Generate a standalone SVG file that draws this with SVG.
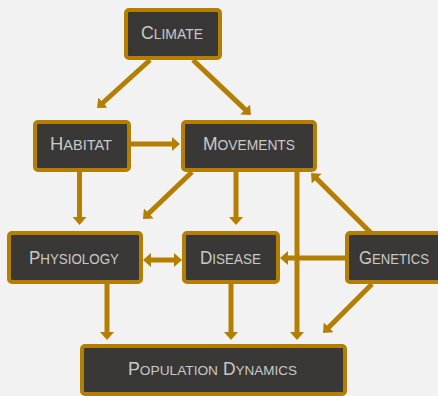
<svg xmlns="http://www.w3.org/2000/svg" width="438" height="396" viewBox="0 0 438 396">
<defs>
<style>
.box{fill:#3a3836;stroke:#b47e00;stroke-width:4}
.lbl{fill:#c9c9c9;font-family:"Liberation Sans","DejaVu Sans",sans-serif;font-size:15px}
.big{font-size:19px}
.pd{font-size:13.5px}
.pd .big{font-size:17.5px}
.con{stroke:#b47e00;stroke-width:5;fill:none}
</style>
<marker id="ah" markerUnits="userSpaceOnUse" markerWidth="10" markerHeight="14" viewBox="0 0 10 14" refX="2" refY="7" orient="auto-start-reverse">
<path d="M0,0 L8,7 L0,14 z" fill="#b47e00"/>
</marker>
</defs>
<rect width="438" height="396" fill="#f2f2f2"/>
<g id="connectors">
<line class="con" x1="150" y1="60" x2="101.5" y2="104" marker-end="url(#ah)"/>
<line class="con" x1="193" y1="60" x2="246.6" y2="110.9" marker-end="url(#ah)"/>
<line class="con" x1="131" y1="144" x2="174" y2="144" marker-end="url(#ah)"/>
<line class="con" x1="79.5" y1="172" x2="79.5" y2="219" marker-end="url(#ah)"/>
<line class="con" x1="192" y1="172" x2="147.3" y2="214.8" marker-end="url(#ah)"/>
<line class="con" x1="236" y1="172" x2="236" y2="219" marker-end="url(#ah)"/>
<line class="con" x1="297" y1="172" x2="297" y2="334" marker-end="url(#ah)"/>
<line class="con" x1="371" y1="233" x2="315.3" y2="177.2" marker-end="url(#ah)"/>
<line class="con" x1="345" y1="258" x2="286" y2="258" marker-end="url(#ah)"/>
<line class="con" x1="372" y1="284" x2="327.3" y2="328.8" marker-end="url(#ah)"/>
<line class="con" x1="149" y1="260" x2="176" y2="260" marker-start="url(#ah)" marker-end="url(#ah)"/>
<line class="con" x1="107" y1="284" x2="107" y2="334" marker-end="url(#ah)"/>
<line class="con" x1="231" y1="284" x2="231" y2="334" marker-end="url(#ah)"/>
</g>
<g id="climate"><rect class="box" x="126" y="10" width="94" height="48" rx="3"/>
<text class="lbl" x="141" y="39" textLength="62" lengthAdjust="spacingAndGlyphs"><tspan class="big">C</tspan>LIMATE</text></g>
<g id="habitat"><rect class="box" x="35" y="122" width="94" height="48" rx="3"/>
<text class="lbl" x="50" y="150" textLength="62" lengthAdjust="spacingAndGlyphs"><tspan class="big">H</tspan>ABITAT</text></g>
<g id="movements"><rect class="box" x="183" y="122" width="132" height="48" rx="3"/>
<text class="lbl" x="203" y="150" textLength="92" lengthAdjust="spacingAndGlyphs"><tspan class="big">M</tspan>OVEMENTS</text></g>
<g id="physiology"><rect class="box" x="9" y="233" width="132" height="49" rx="3"/>
<text class="lbl" x="29" y="264" textLength="90" lengthAdjust="spacingAndGlyphs"><tspan class="big">P</tspan>HYSIOLOGY</text></g>
<g id="disease"><rect class="box" x="184" y="233" width="94" height="49" rx="3"/>
<text class="lbl" x="200" y="264" textLength="61" lengthAdjust="spacingAndGlyphs"><tspan class="big">D</tspan>ISEASE</text></g>
<g id="genetics"><rect class="box" x="347" y="233" width="94" height="49" rx="3"/>
<text class="lbl" x="359" y="264" textLength="70" lengthAdjust="spacingAndGlyphs"><tspan class="big">G</tspan>ENETICS</text></g>
<g id="population-dynamics"><rect class="box" x="82" y="346" width="263" height="48" rx="3"/>
<text class="lbl pd" x="128" y="375" textLength="90" lengthAdjust="spacingAndGlyphs"><tspan class="big">P</tspan>OPULATION</text>
<text class="lbl pd" x="223" y="375" textLength="74" lengthAdjust="spacingAndGlyphs"><tspan class="big">D</tspan>YNAMICS</text></g>
</svg>
